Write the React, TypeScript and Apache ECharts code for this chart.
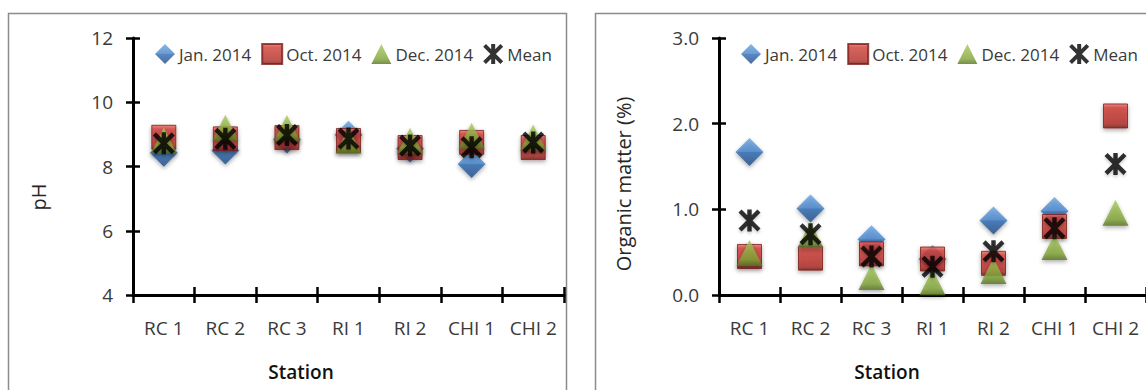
import React, { useEffect, useRef } from 'react';
import * as echarts from 'echarts';

// Sampling stations along the x axis
const stations = ['RC 1', 'RC 2', 'RC 3', 'RI 1', 'RI 2', 'CHI 1', 'CHI 2'];
const seriesNames = ['Jan. 2014', 'Oct. 2014', 'Dec. 2014', 'Mean'];

// Soil pH per sampling date (no January sample at CHI 2)
const phJan = [8.43, 8.5, 8.84, 8.99, 8.56, 8.08, null];
const phOct = [8.91, 8.86, 8.9, 8.81, 8.59, 8.75, 8.59];
const phDec = [8.81, 9.21, 9.2, 8.8, 8.8, 8.96, 8.9];
const phMean = [8.72, 8.86, 8.98, 8.87, 8.65, 8.6, 8.75];

// Organic matter (%) per sampling date
const omJan = [1.67, 1.01, 0.65, 0.42, 0.87, 0.98, null];
const omOct = [0.45, 0.43, 0.48, 0.42, 0.37, 0.8, 2.09];
const omDec = [0.49, 0.7, 0.21, 0.15, 0.28, 0.56, 0.96];
const omMean = [0.87, 0.71, 0.45, 0.33, 0.51, 0.78, 1.53];

// Axis ranges and tick labels
const phAxis = { min: 4, max: 12, interval: 2 };
const omAxis = { min: 0, max: 3, interval: 1 };

const FONT = '"Open Sans", "Noto Sans", sans-serif';
const TEXT = '#3a3a3a';

// Six-armed asterisk used for the mean marker
const ASTERISK =
  'path://M8 0H12V20H8Z M0 2.8L2.8 0L20 17.2L17.2 20Z M17.2 0L20 2.8L2.8 20L0 17.2Z';

const grad = (stops: [number, string][]) =>
  new echarts.graphic.LinearGradient(
    0, 0, 0, 1,
    stops.map(([offset, color]) => ({ offset, color }))
  );

const shadow = {
  shadowBlur: 4,
  shadowOffsetY: 2,
  shadowColor: 'rgba(0,0,0,0.4)',
};

const markerStyles = [
  {
    symbol: 'diamond',
    symbolSize: [28, 28],
    itemStyle: {
      color: grad([
        [0, '#6aa2e0'],
        [0.48, '#4383cc'],
        [0.52, '#2e69b0'],
        [1, '#1f4a85'],
      ]),
      ...shadow,
    },
  },
  {
    symbol: 'rect',
    symbolSize: [24, 24],
    itemStyle: {
      color: grad([
        [0, '#ea6a62'],
        [0.16, '#cf3c34'],
        [0.84, '#b02a24'],
        [1, '#701815'],
      ]),
      borderColor: '#7a1d19',
      borderWidth: 1,
      ...shadow,
    },
  },
  {
    symbol: 'triangle',
    symbolSize: [26, 26],
    itemStyle: {
      color: grad([
        [0, '#a8c95c'],
        [0.75, '#80a236'],
        [1, '#55701f'],
      ]),
      ...shadow,
    },
  },
  {
    symbol: ASTERISK,
    symbolSize: [22, 22],
    itemStyle: {
      color: '#000',
      shadowBlur: 3,
      shadowOffsetY: 2,
      shadowColor: 'rgba(0,0,0,0.25)',
    },
  },
];

function buildSeries(values: (number | null)[][], axisIndex: number) {
  return values.map((vals, i) => ({
    type: 'scatter',
    name: seriesNames[i],
    xAxisIndex: axisIndex,
    yAxisIndex: axisIndex,
    data: vals.map((v) => (v == null ? '-' : v)),
    ...markerStyles[i],
    z: 3 + i,
  }));
}

const axisLineStyle = { color: '#000', width: 3 };
const tickStyle = { color: '#000', width: 2.5 };

function mainX(grid: number) {
  return {
    type: 'category',
    gridIndex: grid,
    data: stations,
    boundaryGap: true,
    axisLine: { show: true, lineStyle: axisLineStyle },
    axisTick: { show: true, inside: false, length: 8, lineStyle: tickStyle },
    axisLabel: { fontSize: 19, color: TEXT, fontFamily: FONT, margin: 23, interval: 0 },
    splitLine: { show: false },
  };
}

function innerX(grid: number) {
  return {
    type: 'category',
    gridIndex: grid,
    data: stations,
    boundaryGap: true,
    position: 'bottom',
    axisLine: { show: false },
    axisTick: { show: true, inside: true, length: 8, lineStyle: tickStyle },
    axisLabel: { show: false },
    splitLine: { show: false },
  };
}

function mainY(grid: number, range: typeof phAxis, digits: number) {
  return {
    type: 'value',
    gridIndex: grid,
    position: 'left',
    ...range,
    axisLine: { show: true, lineStyle: axisLineStyle },
    axisTick: { show: true, inside: false, length: 7, lineStyle: tickStyle },
    axisLabel: {
      fontSize: 19,
      color: TEXT,
      fontFamily: FONT,
      margin: 20,
      formatter: (v: number) => v.toFixed(digits),
    },
    splitLine: { show: false },
  };
}

function innerY(grid: number, range: typeof phAxis) {
  return {
    type: 'value',
    gridIndex: grid,
    position: 'left',
    offset: 0,
    ...range,
    axisLine: { show: false },
    axisTick: { show: true, inside: true, length: 7, lineStyle: tickStyle },
    axisLabel: { show: false },
    splitLine: { show: false },
  };
}

function legend(left: number) {
  return {
    left,
    top: 38,
    width: 700,
    orient: 'horizontal',
    itemWidth: 20,
    itemHeight: 20,
    itemGap: 10,
    selectedMode: false,
    data: seriesNames,
    textStyle: { fontSize: 17, color: TEXT, fontFamily: FONT, padding: [0, 0, 0, -1] },
  };
}

function axisTitle(x: number, y: number, text: string, rotate: boolean, weight: string | number = 'normal', size = 19) {
  return {
    type: 'text',
    x,
    y,
    rotation: rotate ? Math.PI / 2 : 0,
    silent: true,
    style: {
      text,
      fontSize: size,
      fontFamily: FONT,
      fontWeight: weight,
      fill: rotate ? '#262626' : '#111',
      align: 'center',
      verticalAlign: 'middle',
    },
  };
}

export default function App() {
  const ref = useRef<HTMLDivElement>(null);

  useEffect(() => {
    if (!ref.current) return;
    const chart = echarts.init(ref.current, undefined, { renderer: 'svg' });

    chart.setOption({
      animation: false,
      backgroundColor: '#fff',
      textStyle: { fontFamily: FONT },
      grid: [
        { left: 133, top: 38, width: 431, height: 257, containLabel: false },
        { left: 719, top: 38, width: 429, height: 257, containLabel: false },
      ],
      legend: [legend(150), legend(736)],
      xAxis: [mainX(0), mainX(1), innerX(0), innerX(1)],
      yAxis: [
        mainY(0, phAxis, 0),
        mainY(1, omAxis, 1),
        innerY(0, phAxis),
        innerY(1, omAxis),
      ],
      series: [
        ...buildSeries([phJan, phOct, phDec, phMean], 0),
        ...buildSeries([omJan, omOct, omDec, omMean], 1),
      ],
      graphic: [
        {
          type: 'rect',
          silent: true,
          z: -10,
          shape: { x: 8.5, y: 13.5, width: 558, height: 420 },
          style: { fill: 'none', stroke: '#8c8c8c', lineWidth: 1.5 },
        },
        {
          type: 'rect',
          silent: true,
          z: -10,
          shape: { x: 595.5, y: 13.5, width: 600, height: 420 },
          style: { fill: 'none', stroke: '#8c8c8c', lineWidth: 1.5 },
        },
        axisTitle(38, 197, 'pH', true, 'normal', 20),
        axisTitle(623, 184, 'Organic matter (%)', true, 'normal', 20),
        axisTitle(301, 372, 'Station', false, 600, 19),
        axisTitle(887, 372, 'Station', false, 600, 19),
      ],
    });

    return () => chart.dispose();
  }, []);

  return (
    <div
      ref={ref}
      style={{ position: 'absolute', left: 0, top: 0, width: 1146, height: 390 }}
    />
  );
}
